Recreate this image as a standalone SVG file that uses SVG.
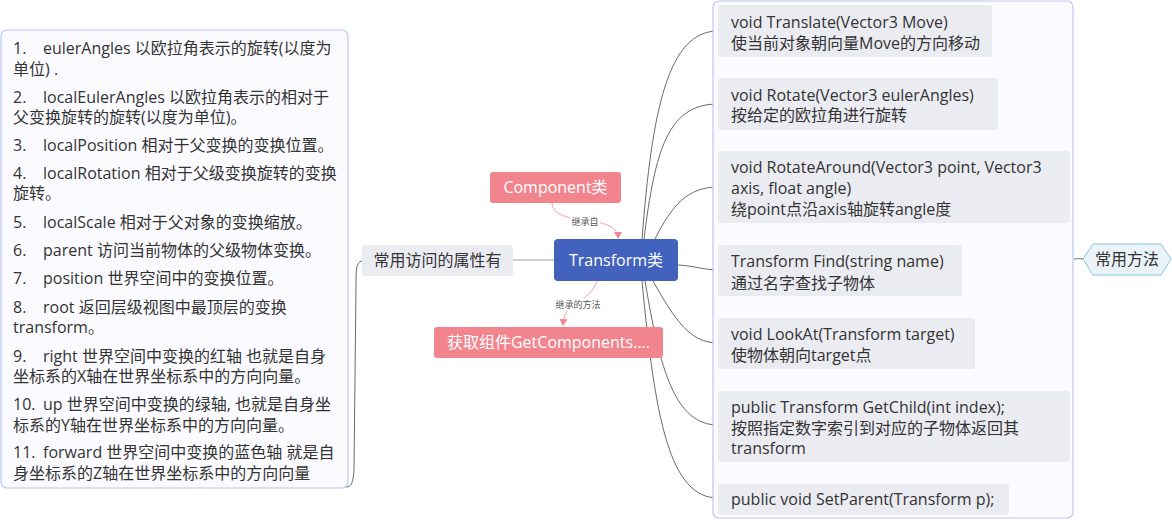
<svg xmlns="http://www.w3.org/2000/svg" width="1172" height="520" viewBox="0 0 1172 520">
<defs>
<style>
text{font-family:"Open Sans","Noto Sans CJK SC",sans-serif;font-size:16px;fill:#333}
.frame{fill:#fbfbff;stroke:#b9c6f2;stroke-width:1.2}
.grey{fill:#ebebf2}
.pink{fill:#f2848e}
.wt{fill:#fff}
.lbl{font-size:9px;fill:#555}
.conn{fill:none;stroke:#6b6b6b;stroke-width:1}
.inh{fill:none;stroke:#f4a2aa;stroke-width:1}
</style>
<marker id="ah" markerWidth="8" markerHeight="8" refX="6" refY="4" orient="auto" markerUnits="userSpaceOnUse">
<path d="M0,0 L7,4 L0,8 z" fill="#f28690"/>
</marker>
</defs>
<rect width="1172" height="520" fill="#fff"/>

<g id="connectors">
<path class="conn" d="M362,261 C356,262 356,270 356,285 L354,470 C353,482 352,487 346,487"/>
<line x1="513" y1="260" x2="554" y2="260" stroke="#d0d0d0" stroke-width="2"/>
<path class="conn" d="M642,239 C652,110 668,31 718,31"/>
<path class="conn" d="M644,239 C655,150 668,104 718,104"/>
<path class="conn" d="M655,239 C672,205 688,187 718,187"/>
<path class="conn" d="M678,265 C695,266 705,270 718,270"/>
<path class="conn" d="M653,281 C675,320 690,343 718,343"/>
<path class="conn" d="M645,281 C660,370 675,425 718,425"/>
<path class="conn" d="M642,281 C655,420 670,498 718,498"/>
<path class="conn" d="M1074,259 C1078,259 1080,258 1083,259" stroke="#8fcbe0"/>
<path class="inh" d="M552,203 C552,228 618,212 618,238" marker-end="url(#ah)"/>
<path class="inh" d="M597,281 C588,306 565,298 563,325" marker-end="url(#ah)"/>
<rect x="570" y="215" width="30" height="13" fill="#fff"/>
<text class="lbl" x="585" y="225" text-anchor="middle">继承自</text>
<rect x="555" y="298" width="46" height="13" fill="#fff"/>
<text class="lbl" x="578" y="308" text-anchor="middle">继承的方法</text>
</g>

<g id="props-frame">
<rect class="frame" x="1" y="30" width="347" height="458" rx="6"/>
<text x="13" y="54">1.</text><text x="43" y="54">eulerAngles 以欧拉角表示的旋转(以度为</text>
<text x="13" y="75">单位) .</text>
<text x="13" y="103">2.</text><text x="43" y="103">localEulerAngles 以欧拉角表示的相对于</text>
<text x="13" y="123">父变换旋转的旋转(以度为单位)。</text>
<text x="13" y="151">3.</text><text x="43" y="151">localPosition 相对于父变换的变换位置。</text>
<text x="13" y="179">4.</text><text x="43" y="179">localRotation 相对于父级变换旋转的变换</text>
<text x="13" y="199">旋转。</text>
<text x="13" y="228">5.</text><text x="43" y="228">localScale 相对于父对象的变换缩放。</text>
<text x="13" y="256">6.</text><text x="43" y="256">parent 访问当前物体的父级物体变换。</text>
<text x="13" y="284">7.</text><text x="43" y="284">position 世界空间中的变换位置。</text>
<text x="13" y="313">8.</text><text x="43" y="313">root 返回层级视图中最顶层的变换</text>
<text x="13" y="333">transform。</text>
<text x="13" y="362">9.</text><text x="43" y="362">right 世界空间中变换的红轴 也就是自身</text>
<text x="13" y="382">坐标系的X轴在世界坐标系中的方向向量。</text>
<text x="13" y="410">10.</text><text x="43" y="410">up 世界空间中变换的绿轴, 也就是自身坐</text>
<text x="13" y="431">标系的Y轴在世界坐标系中的方向向量。</text>
<text x="13" y="458">11.</text><text x="43" y="458">forward 世界空间中变换的蓝色轴 就是自</text>
<text x="13" y="479">身坐标系的Z轴在世界坐标系中的方向向量</text>
</g>

<g id="props-node">
<rect class="grey" x="362" y="245" width="151" height="31" rx="3"/>
<text x="437.5" y="266" text-anchor="middle" font-size="16.5">常用访问的属性有</text>
</g>

<g id="transform">
<rect x="554" y="239" width="124" height="42" rx="4" fill="#4262be"/>
<text class="wt" x="616" y="266" text-anchor="middle" font-size="16.5">Transform类</text>
</g>

<g id="component">
<rect class="pink" x="490" y="172" width="131" height="31" rx="3"/>
<text class="wt" x="555.5" y="193" text-anchor="middle">Component类</text>
</g>

<g id="getcomponents">
<rect class="pink" x="434" y="327" width="229" height="31" rx="3"/>
<text class="wt" x="548.5" y="348" text-anchor="middle">获取组件GetComponents....</text>
</g>

<g id="methods-frame">
<rect class="frame" x="713" y="1" width="360" height="517" rx="6"/>
</g>

<g id="m-translate">
<rect class="grey" x="718" y="5" width="274" height="52" rx="3"/>
<text x="731" y="28">void Translate(Vector3 Move)</text>
<text x="731" y="49">使当前对象朝向量Move的方向移动</text>
</g>
<g id="m-rotate">
<rect class="grey" x="718" y="78" width="280" height="52" rx="3"/>
<text x="731" y="101">void Rotate(Vector3 eulerAngles)</text>
<text x="731" y="121">按给定的欧拉角进行旋转</text>
</g>
<g id="m-rotatearound">
<rect class="grey" x="718" y="151" width="352" height="72" rx="3"/>
<text x="731" y="173">void RotateAround(Vector3 point, Vector3</text>
<text x="731" y="194">axis, float angle)</text>
<text x="731" y="215">绕point点沿axis轴旋转angle度</text>
</g>
<g id="m-find">
<rect class="grey" x="718" y="245" width="244" height="51" rx="3"/>
<text x="731" y="267">Transform Find(string name)</text>
<text x="731" y="289">通过名字查找子物体</text>
</g>
<g id="m-lookat">
<rect class="grey" x="718" y="318" width="257" height="51" rx="3"/>
<text x="731" y="340">void LookAt(Transform target)</text>
<text x="731" y="361">使物体朝向target点</text>
</g>
<g id="m-getchild">
<rect class="grey" x="718" y="391" width="352" height="71" rx="3"/>
<text x="731" y="413">public Transform GetChild(int index);</text>
<text x="731" y="434">按照指定数字索引到对应的子物体返回其</text>
<text x="731" y="454">transform</text>
</g>
<g id="m-setparent">
<rect class="grey" x="718" y="484" width="291" height="31" rx="3"/>
<text x="731" y="505">public void SetParent(Transform p);</text>
</g>

<g id="methods-label">
<path d="M1083,259 L1093,244 L1161,244 L1171,259 L1161,275 L1093,275 Z" fill="#e9f3f8" stroke="#86c6df" stroke-width="1"/>
<text x="1127" y="265" text-anchor="middle" font-size="15.5">常用方法</text>
</g>
</svg>
